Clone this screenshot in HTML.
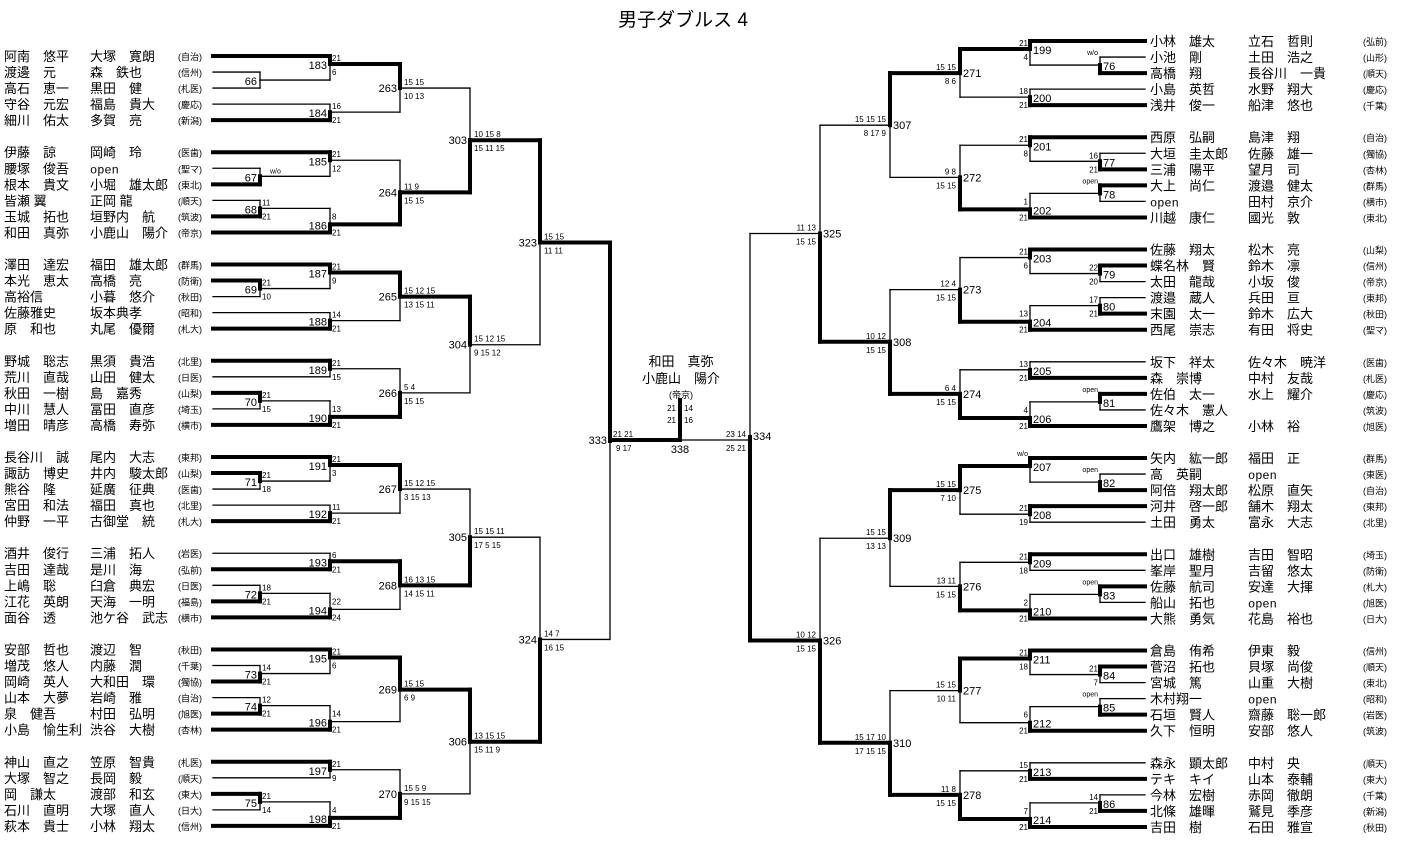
<!DOCTYPE html>
<html><head><meta charset="utf-8">
<style>
html,body{margin:0;padding:0;background:#fff;}
body{width:1402px;height:857px;overflow:hidden;}
svg{display:block;}
.nm{font-family:"Liberation Sans","Noto Sans CJK JP",sans-serif;font-size:13px;fill:#000;}
.op{font-family:"Liberation Mono",monospace;font-size:12px;fill:#000;}
.sc{font-family:"Liberation Sans","Noto Sans CJK JP",sans-serif;font-size:9px;fill:#000;}
.num{font-family:"Liberation Sans",sans-serif;font-size:11px;fill:#000;}
.s{font-family:"Liberation Sans",sans-serif;font-size:8px;fill:#000;}
.t{font-family:"Liberation Sans",sans-serif;font-size:7px;fill:#000;}
</style></head>
<body>
<svg id="g" width="1402" height="857" xmlns="http://www.w3.org/2000/svg">
<text x="683" y="26" text-anchor="middle" style="font-family:'Liberation Sans','Noto Sans CJK JP',sans-serif;font-size:19px;">男子ダブルス 4</text>
<text x="681" y="366" text-anchor="middle" class="nm">和田　真弥</text>
<text x="681" y="383" text-anchor="middle" class="nm">小鹿山　陽介</text>
<text x="681" y="398" text-anchor="middle" class="sc">(帝京)</text>
<text x="676" y="411" text-anchor="end" class="s">21</text><text x="684" y="411" class="s">14</text>
<text x="676" y="423" text-anchor="end" class="s">21</text><text x="684" y="423" class="s">16</text>
<text x="680" y="453" text-anchor="middle" class="num">338</text>
<text x="607" y="444" text-anchor="end" class="num">333</text>
<text x="613" y="437" class="s">21  21</text>
<text x="616" y="451" class="s">9  17</text>
<text x="746" y="437" text-anchor="end" class="s">23  14</text>
<text x="746" y="451" text-anchor="end" class="s">25  21</text>
<text x="753" y="440" class="num">334</text>
</svg>
<script>
var NS="http://www.w3.org/2000/svg",G=document.getElementById("g");
function el(t,a,txt){var e=document.createElementNS(NS,t);for(var k in a)e.setAttribute(k,a[k]);if(txt!=null)e.textContent=txt;G.appendChild(e);return e;}
function ln(x1,y1,x2,y2,th){el("line",{x1:x1,y1:y1,x2:x2,y2:y2,stroke:"#000","stroke-width":th?4:1.3,"stroke-linecap":"square"});}
function tx(x,y,s,c,anc){var a={x:x,y:y,"class":c};if(anc)a["text-anchor"]=anc;el("text",a,s);}
function M(n,c,w,s,lab){return {n:n,c:c,w:w,s:s,lab:lab};}
var L=M("333",[
 M("323",[
  M("303",[
   M("263",[M("183",[0,M("66",[1,2],-1)],0,["21","6"]),M("184",[3,4],1,["16","21"])],0,["15 15","10 13"]),
   M("264",[M("185",[6,M("67",[7,8],1,null,"w/o")],0,["21","12"]),M("186",[M("68",[9,10],1,["11","21"]),11],1,["8","21"])],1,["11  9","15 15"])
  ],1,["10 15  8","15 11 15"]),
  M("304",[
   M("265",[M("187",[13,M("69",[14,15],0,["21","10"])],0,["21","9"]),M("188",[16,17],1,["14","21"])],0,["15 12 15","13 15 11"]),
   M("266",[M("189",[19,20],0,["21","15"]),M("190",[M("70",[21,22],0,["21","15"]),23],1,["13","21"])],1,[" 5   4","15 15"])
  ],0,["15 12 15"," 9 15 12"])
 ],0,["15 15","11 11"]),
 M("324",[
  M("305",[
   M("267",[M("191",[25,M("71",[26,27],0,["21","18"])],0,["21","3"]),M("192",[28,29],1,["11","21"])],0,["15 12 15"," 3 15 13"]),
   M("268",[M("193",[31,32],1,["6","21"]),M("194",[M("72",[33,34],1,["18","21"]),35],1,["22","24"])],0,["16 13 15","14 15 11"])
  ],1,["15 15 11","17  5 15"]),
  M("306",[
   M("269",[M("195",[37,M("73",[38,39],1,["14","21"])],0,["21","6"]),M("196",[M("74",[40,41],1,["12","21"]),42],1,["14","21"])],0,["15 15"," 6   9"]),
   M("270",[M("197",[44,45],0,["21","9"]),M("198",[M("75",[46,47],0,["21","14"]),48],1,["4","21"])],1,["15  5  9"," 9 15 15"])
  ],0,["13 15 15","15 11  9"])
 ],1,["14   7","16 15"])
],0,null);
var R=M("334",[
 M("325",[
  M("307",[
   M("271",[M("199",[0,M("76",[1,2],1,null,"w/o")],0,["21","4"]),M("200",[3,4],1,["18","21"])],0,["15 15","8   6"]),
   M("272",[M("201",[6,M("77",[7,8],1,["16","21"])],0,["21","8"]),M("202",[M("78",[9,10],0,null,"open"),11],1,["1","21"])],1,["9   8","15 15"])
  ],0,["15 15 15","8 17  9"]),
  M("308",[
   M("273",[M("203",[13,M("79",[14,15],0,["22","20"])],0,["21","6"]),M("204",[M("80",[16,17],1,["17","21"]),18],1,["13","21"])],1,["12   4","15 15"]),
   M("274",[M("205",[20,21],1,["13","21"]),M("206",[M("81",[22,23],0,null,"open"),24],1,["4","21"])],1,["6   4","15 15"])
  ],1,["10 12","15 15"])
 ],1,["11 13","15 15"]),
 M("326",[
  M("309",[
   M("275",[M("207",[26,M("82",[27,28],1,null,"open")],0,null,"w/o"),M("208",[29,30],0,["21","19"])],0,["15 15","7 10"]),
   M("276",[M("209",[32,33],0,["21","18"]),M("210",[M("83",[34,35],0,null,"open"),36],1,["2","21"])],1,["13 11","15 15"])
  ],0,["15 15","13 13"]),
  M("310",[
   M("277",[M("211",[38,M("84",[39,40],0,["21","7"])],0,["21","18"]),M("212",[M("85",[41,42],1,null,"open"),43],1,["6","21"])],0,["15 15","10 11"]),
   M("278",[M("213",[45,46],1,["15","21"]),M("214",[M("86",[47,48],1,["14","21"]),49],1,["7","21"])],1,["11   8","15 15"])
  ],1,["15 17 10","17 15 15"])
 ],1,["10 12","15 15"])
],1,null);

function lay(node,depth,side,Y){
  var x=side==="L"?610-70*depth:750+70*depth;
  var conns=[],anch=[];
  for(var i=0;i<2;i++){var c=node.c[i];
    if(typeof c==="number"){conns.push(Y(c));anch.push(Y(c));}
    else{var r=lay(c,depth+1,side,Y);conns.push(r);
      if(typeof c.c[0]==="number"&&typeof c.c[1]==="number"&&typeof node.c[1-i]==="number"){anch.push(Y(i===0?c.c[1]:c.c[0]));}else anch.push(r);}
  }
  var out=(anch[0]+anch[1])/2;
  var edge=side==="L"?213:1145;
  for(var i=0;i<2;i++){var c=node.c[i],th=(node.w===i);
    if(typeof c==="number") ln(edge,conns[i],x,conns[i],th);
    else ln(side==="L"?x-70:x+70,conns[i],x,conns[i],th);
  }
  ln(x,conns[0],x,out,node.w===0);
  ln(x,out,x,conns[1],node.w===1);
  var hi=depth<=3;
  if(depth>0){
    if(side==="L") tx(x-3,out+(hi?4:5),node.n,"num","end"); else tx(x+3,out+(hi?4:5),node.n,"num");
  }
  if(node.s&&depth>0){
    if(hi){
      if(side==="L"){tx(x+4,out-3,node.s[0],"s");tx(x+4,out+11,node.s[1],"s");}
      else{tx(x-4,out-3,node.s[0],"s","end");tx(x-4,out+11,node.s[1],"s","end");}
    }else{
      var t1=Math.max(conns[0]+2,out-8),t2=Math.min(conns[1],out+8);
      if(side==="L"){tx(x+2,t1+3,node.s[0],"s");tx(x+2,t2+3,node.s[1],"s");}
      else{tx(x-2,t1+3,node.s[0],"s","end");tx(x-2,t2+3,node.s[1],"s","end");}
    }
  }
  if(node.lab){
    if(side==="L"){tx(x+10,out-3,node.lab,"t");}
    else{tx(x-2,conns[0]-2,node.lab,"t","end");}
  }
  return out;
}
var YL=function(k){return 56+16.04*k;},YR=function(k){return 41+16.04*k;};
lay(L,0,"L",YL);lay(R,0,"R",YR);
ln(610,440,680,440,true);
ln(680,440,750,440,false);
ln(680,400,680,440,true);

var LN={0:["阿南　悠平","大塚　寛朗","(自治)"],1:["渡邊　元","森　鉄也","(信州)"],2:["高石　恵一","黒田　健","(札医)"],3:["守谷　元宏","福島　貴大","(慶応)"],4:["細川　佑太","多賀　亮","(新潟)"],
6:["伊藤　諒","岡崎　玲","(医歯)"],7:["腰塚　俊吾","open","(聖マ)"],8:["根本　貴文","小堀　雄太郎","(東北)"],9:["皆瀬 翼","正岡 龍","(順天)"],10:["玉城　拓也","垣野内　航","(筑波)"],11:["和田　真弥","小鹿山　陽介","(帝京)"],
13:["澤田　達宏","福田　雄太郎","(群馬)"],14:["本光　恵太","高橋　亮","(防衛)"],15:["高裕信","小暮　悠介","(秋田)"],16:["佐藤雅史","坂本典孝","(昭和)"],17:["原　和也","丸尾　優爾","(札大)"],
19:["野城　聡志","黒須　貴浩","(北里)"],20:["荒川　直哉","山田　健太","(日医)"],21:["秋田　一樹","島　嘉秀","(山梨)"],22:["中川　慧人","冨田　直彦","(埼玉)"],23:["増田　晴彦","高橋　寿弥","(横市)"],
25:["長谷川　誠","尾内　大志","(東邦)"],26:["諏訪　博史","井内　駿太郎","(山梨)"],27:["熊谷　隆","延廣　征典","(医歯)"],28:["宮田　和法","福田　真也","(北里)"],29:["仲野　一平","古御堂　統","(札大)"],
31:["酒井　俊行","三浦　拓人","(岩医)"],32:["吉田　達哉","是川　海","(弘前)"],33:["上嶋　聡","臼倉　典宏","(日医)"],34:["江花　英朗","天海　一明","(福島)"],35:["面谷　透","池ケ谷　武志","(横市)"],
37:["安部　哲也","渡辺　智","(秋田)"],38:["増茂　悠人","内藤　潤","(千葉)"],39:["岡崎　英人","大和田　環","(獨協)"],40:["山本　大夢","岩崎　雅","(自治)"],41:["泉　健吾","村田　弘明","(旭医)"],42:["小島　愉生利","渋谷　大樹","(杏林)"],
44:["神山　直之","笠原　智貴","(札医)"],45:["大塚　智之","長岡　毅","(順天)"],46:["岡　謙太","渡部　和玄","(東大)"],47:["石川　直明","大塚　直人","(日大)"],48:["萩本　貴士","小林　翔太","(信州)"]};
var RN={0:["小林　雄太","立石　哲則","(弘前)"],1:["小池　剛","土田　浩之","(山形)"],2:["高橋　翔","長谷川　一貴","(順天)"],3:["小島　英哲","水野　翔大","(慶応)"],4:["浅井　俊一","船津　悠也","(千葉)"],
6:["西原　弘嗣","島津　翔","(自治)"],7:["大垣　圭太郎","佐藤　雄一","(獨協)"],8:["三浦　陽平","望月　司","(杏林)"],9:["大上　尚仁","渡邉　健太","(群馬)"],10:["open","田村　京介","(横市)"],11:["川越　康仁","國光　敦","(東北)"],
13:["佐藤　翔太","松木　亮","(山梨)"],14:["蝶名林　賢","鈴木　凛","(信州)"],15:["太田　龍哉","小坂　俊","(帝京)"],16:["渡邉　蔵人","兵田　亘","(東邦)"],17:["末園　太一","鈴木　広大","(秋田)"],18:["西尾　崇志","有田　将史","(聖マ)"],
20:["坂下　祥太","佐々木　暁洋","(医歯)"],21:["森　崇博","中村　友哉","(札医)"],22:["佐伯　太一","水上　耀介","(慶応)"],23:["佐々木　憲人","","(筑波)"],24:["鷹架　博之","小林　裕","(旭医)"],
26:["矢内　紘一郎","福田　正","(群馬)"],27:["高　英嗣","open","(東医)"],28:["阿倍　翔太郎","松原　直矢","(自治)"],29:["河井　啓一郎","舗木　翔太","(東邦)"],30:["土田　勇太","富永　大志","(北里)"],
32:["出口　雄樹","吉田　智昭","(埼玉)"],33:["峯岸　聖月","吉留　悠太","(防衛)"],34:["佐藤　航司","安達　大揮","(札大)"],35:["船山　拓也","open","(旭医)"],36:["大熊　勇気","花島　裕也","(日大)"],
38:["倉島　侑希","伊東　毅","(信州)"],39:["菅沼　拓也","貝塚　尚俊","(順天)"],40:["宮城　篤","山重　大樹","(東北)"],41:["木村翔一","open","(昭和)"],42:["石垣　賢人","齋藤　聡一郎","(岩医)"],43:["久下　恒明","安部　悠人","(筑波)"],
45:["森永　顕太郎","中村　央","(順天)"],46:["テキ　キイ","山本　泰輔","(東大)"],47:["今林　宏樹","赤岡　徹朗","(千葉)"],48:["北條　雄暉","鷲見　季彦","(新潟)"],49:["吉田　樹","石田　雅宣","(秋田)"]};
function names(tab,Y,x1,x2,x3){for(var k in tab){var r=tab[k],y=Y(+k)+5;
  tx(x1,y,r[0],r[0]==="open"?"op":"nm");tx(x2,y,r[1],r[1]==="open"?"op":"nm");tx(x3,y-1,r[2],"sc");}}
names(LN,YL,4,90,178);
names(RN,YR,1150,1248,1363);
</script>
</body></html>
